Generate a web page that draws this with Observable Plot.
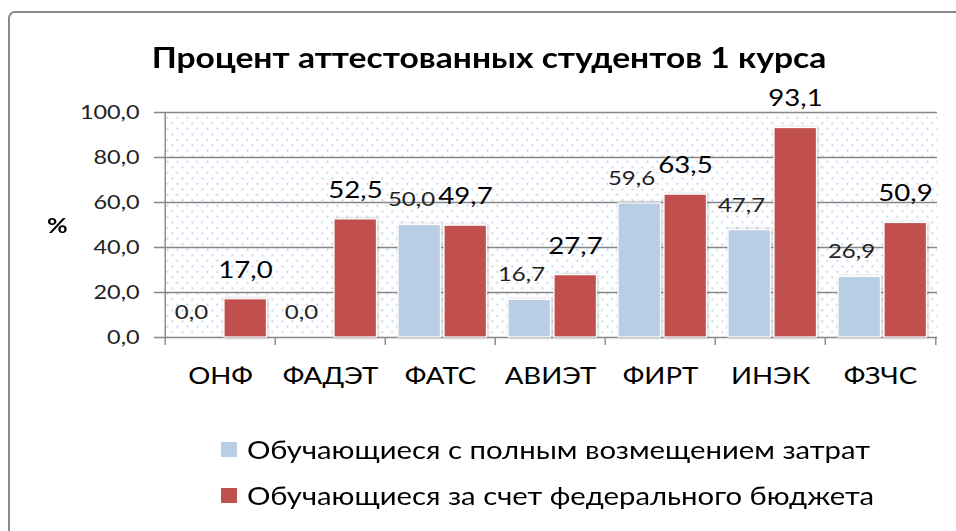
<!DOCTYPE html>
<html><head><meta charset="utf-8">
<script src="https://cdn.jsdelivr.net/npm/d3@7"></script>
<script src="https://cdn.jsdelivr.net/npm/@observablehq/plot@0.6"></script>
<style>
body{margin:0;background:#fff;}
#wrap{position:relative;width:956px;height:531px;overflow:hidden;font-family:Lato,sans-serif;color:#000;}
#frame{position:absolute;left:8px;top:11px;width:1000px;height:600px;border:2px solid #8a8a8a;border-radius:7px;box-sizing:border-box;}
#chart{position:absolute;left:0;top:0;}
#title{position:absolute;left:0;width:978px;top:39px;text-align:center;font-weight:bold;font-size:28px;line-height:36px;transform:scaleX(1.2);transform-origin:489px 50%;}
#ylab{position:absolute;left:47px;top:212px;font-weight:bold;font-size:21px;line-height:26px;transform:scaleX(1.2);transform-origin:left;}
.leg{position:absolute;left:221px;height:30px;line-height:30px;}
.leg .sw{position:absolute;left:0;top:7px;width:16px;height:15px;}
.leg .tx{position:absolute;left:26px;top:0;white-space:nowrap;font-size:24.4px;transform:scaleX(1.2);transform-origin:left;}
</style></head>
<body>
<div id="wrap">
  <div id="frame"></div>
  <div id="chart"></div>
  <div id="title"></div>
  <div id="ylab">%</div>
  <div id="legend"></div>
</div>
<script>
const categories = ["ОНФ", "ФАДЭТ", "ФАТС", "АВИЭТ", "ФИРТ", "ИНЭК", "ФЗЧС"];
const paidValues = [0.0, 0.0, 50.0, 16.7, 59.6, 47.7, 26.9];
const budgetValues = [17.0, 52.5, 49.7, 27.7, 63.5, 93.1, 50.9];
const seriesNames = ["Обучающиеся с полным возмещением затрат", "Обучающиеся за счет федерального бюджета"];
const seriesColors = ["#B9CDE5", "#C0504D"];
const yTicks = [0, 20, 40, 60, 80, 100];
const titleText = "Процент аттестованных студентов 1 курса";

document.getElementById("title").textContent = titleText;

const rows = categories.map((c, i) => ({cat: c, paid: paidValues[i], budget: budgetValues[i]}));
const W = 956, H = 531, mL = 163, mR = 19, mT = 112, mB = 194;
const bw = (W - mL - mR) / categories.length;
const fmt = d => d.toFixed(1).replace(".", ",");
const grid = "#878787";
const stretch = 1.2;

const svg = Plot.plot({
  width: W, height: H,
  marginLeft: mL, marginRight: mR, marginTop: mT, marginBottom: mB,
  style: {fontFamily: "Lato, sans-serif", fontSize: "20px", color: "#000", background: "transparent"},
  x: {domain: categories, padding: 0, tickSize: 0, tickPadding: 30, label: null},
  y: {domain: [0, 100], ticks: yTicks, tickFormat: fmt, tickSize: 0, tickPadding: 24, label: null},
  marks: [
    Plot.frame({fill: "url(#dots)", stroke: "none"}),
    Plot.ruleY(yTicks, {stroke: grid, strokeWidth: 1.4, insetLeft: -9}),
    Plot.ruleX([categories[0]], {dx: -bw / 2, y1: 100, y2: 0, insetBottom: -8, stroke: grid, strokeWidth: 1.4}),
    Plot.ruleX(categories.slice(1), {dx: -bw / 2, y1: 0, y2: 0, insetBottom: -8, stroke: grid, strokeWidth: 1.4}),
    Plot.ruleX([categories[categories.length - 1]], {dx: bw / 2, y1: 0, y2: 0, insetBottom: -8, stroke: grid, strokeWidth: 1.4}),
    Plot.barY(rows, {x: "cat", y: "paid", fill: seriesColors[0], stroke: "#fff", strokeWidth: 1.2, insetLeft: 13, insetRight: bw - 13 - 43}),
    Plot.barY(rows, {x: "cat", y: "budget", fill: seriesColors[1], stroke: "#fff", strokeWidth: 1.2, insetLeft: 59, insetRight: bw - 59 - 43}),
    Plot.text(rows, {x: "cat", y: "paid", text: d => fmt(d.paid), dx: -29, dy: -25, fontSize: 20, fill: "#222", lineAnchor: "middle"}),
    Plot.text(rows, {x: "cat", y: "budget", text: d => fmt(d.budget), dx: 25, dy: -29, fontSize: 23, fill: "#000", lineAnchor: "middle"})
  ]
});

const s = d3.select(svg);
s.insert("defs", ":first-child").html(`
  <pattern id="dots" width="10" height="11" patternUnits="userSpaceOnUse">
    <rect x="1" y="1" width="1.6" height="1.6" fill="#a8c0ea"/>
    <rect x="6" y="6.5" width="1.6" height="1.6" fill="#a8c0ea"/>
  </pattern>
  <filter id="shadow" x="-20%" y="-20%" width="140%" height="140%">
    <feDropShadow dx="1" dy="0" stdDeviation="1.8" flood-color="#000" flood-opacity="0.25"/>
  </filter>`);
s.selectAll('g[aria-label="bar"] rect').attr("filter", "url(#shadow)");
s.selectAll('g[aria-label^="x-axis"] text').attr("font-size", "23px");
s.selectAll('g[aria-label^="y-axis"] text').attr("font-size", "19.5px").attr("fill", "#222");
document.getElementById("chart").appendChild(svg);

// horizontal stretch of the svg texts around their anchor (the reference glyphs are wide)
const NS = "http://www.w3.org/2000/svg";
svg.querySelectorAll("text").forEach(el => {
  const g = document.createElementNS(NS, "g");
  const tr = el.getAttribute("transform");
  if (tr) { g.setAttribute("transform", tr); el.removeAttribute("transform"); }
  el.parentNode.insertBefore(g, el);
  g.appendChild(el);
  const anchor = getComputedStyle(el).textAnchor;
  const ox = anchor === "end" ? "right" : anchor === "middle" ? "center" : "left";
  el.style.transformBox = "fill-box";
  el.style.transformOrigin = ox + " center";
  el.style.transform = `scaleX(${stretch})`;
});

const legend = document.getElementById("legend");
seriesNames.forEach((name, i) => {
  const row = document.createElement("div");
  row.className = "leg";
  row.style.top = (435 + i * 46) + "px";
  row.innerHTML = `<span class="sw" style="background:${seriesColors[i]}"></span><span class="tx"></span>`;
  row.lastChild.textContent = name;
  legend.appendChild(row);
});
</script>
</body></html>
